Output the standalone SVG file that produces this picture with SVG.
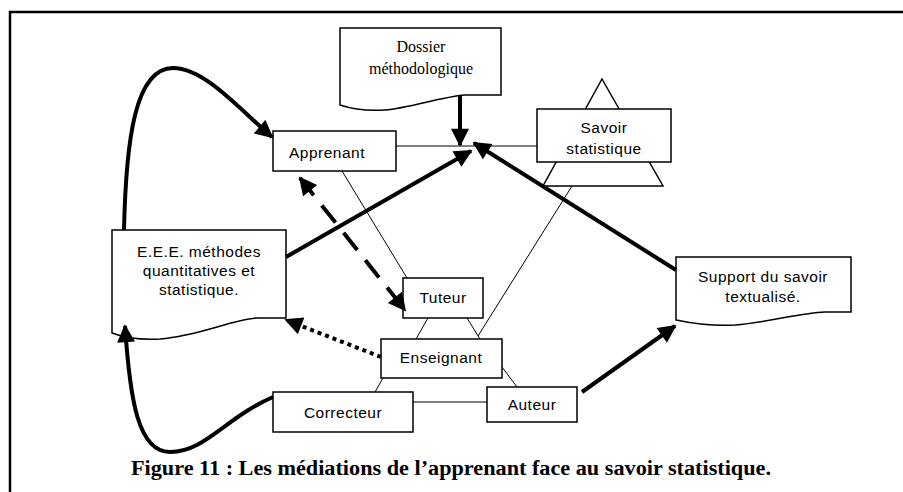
<svg xmlns="http://www.w3.org/2000/svg" width="903" height="492" viewBox="0 0 903 492">
<style>
.box{fill:#fff;stroke:#000;stroke-width:1.5}
.thin{stroke:#000;stroke-width:1;fill:none}
.thick{stroke:#000;stroke-width:4;fill:none}
.lbl{font-family:"Liberation Sans",Arial,sans-serif;font-size:15.5px;letter-spacing:0.5px;fill:#000;text-anchor:middle}
.ser{font-family:"Liberation Serif","Times New Roman",serif;font-size:16px;fill:#000;text-anchor:middle}
.cap{font-family:"Liberation Serif","Times New Roman",serif;font-size:20px;font-weight:bold;fill:#000;text-anchor:middle}
</style>
<defs>
<marker id="ah" viewBox="0 0 10 10" refX="9" refY="5" markerWidth="22" markerHeight="18" markerUnits="userSpaceOnUse" orient="auto-start-reverse">
<path d="M0,0 L10,5 L0,10 z" fill="#000"/>
</marker>
</defs>
<rect x="10" y="12" width="905" height="500" fill="#fff" stroke="#000" stroke-width="2.5"/>

<g id="thin-links">
<line class="thin" x1="396" y1="146" x2="537" y2="146"/>
<line class="thin" x1="342" y1="171" x2="407" y2="278"/>
<line class="thin" x1="572" y1="186" x2="478" y2="336"/>
<line class="thin" x1="428" y1="318" x2="416" y2="339"/>
<line class="thin" x1="467" y1="318" x2="480" y2="339"/>
<line class="thin" x1="383" y1="378" x2="375" y2="392"/>
<line class="thin" x1="502" y1="367" x2="517" y2="387"/>
<line class="thin" x1="413" y1="402" x2="487" y2="402"/>
</g>

<g id="savoir">
<path class="box" d="M602,79 L663,186 L543,186 Z"/>
<rect class="box" x="537" y="109" width="134" height="53"/>
<text class="lbl" x="604" y="133">Savoir</text>
<text class="lbl" x="604" y="154">statistique</text>
</g>

<g id="dossier">
<path class="box" d="M340,28 L501,28 L501,95 L465,95 C440,97 410,108 385,110 C370,111 355,110 340,105 Z"/>
<text class="ser" x="421" y="52">Dossier</text>
<text class="ser" x="421" y="74">méthodologique</text>
</g>

<g id="apprenant">
<rect class="box" x="273" y="131" width="123" height="40"/>
<text class="lbl" x="327" y="158">Apprenant</text>
</g>

<g id="eee">
<path class="box" d="M112,230 L286,230 L286,318 L257,318 C230,320 200,336 160,339 C140,340 125,338 112,333 Z"/>
<text class="lbl" x="199" y="257">E.E.E. méthodes</text>
<text class="lbl" x="199" y="276">quantitatives et</text>
<text class="lbl" x="199" y="295">statistique.</text>
</g>

<g id="tuteur">
<rect class="box" x="403" y="278" width="80" height="40"/>
<text class="lbl" x="443" y="303">Tuteur</text>
</g>

<g id="enseignant">
<rect class="box" x="381" y="339" width="121" height="39"/>
<text class="lbl" x="441" y="363">Enseignant</text>
</g>

<g id="correcteur">
<rect class="box" x="273" y="392" width="140" height="40"/>
<text class="lbl" x="343" y="418">Correcteur</text>
</g>

<g id="auteur">
<rect class="box" x="487" y="387" width="90" height="35"/>
<text class="lbl" x="532" y="410">Auteur</text>
</g>

<g id="support">
<path class="box" d="M676,257 L851,257 L851,312 L825,312 C800,313 770,322 735,325 C715,326 695,324 676,320 Z"/>
<text class="lbl" x="763" y="282">Support du savoir</text>
<text class="lbl" x="763" y="302">textualisé.</text>
</g>

<g id="connectors">
<path class="thick" d="M124,230 C126,140 135,68 173,68 C205,68 240,110 272,137" marker-end="url(#ah)"/>
<path class="thick" d="M273,397 C225,418 205,452 170,452 C138,452 130,400 125,326" marker-end="url(#ah)"/>
<line class="thick" x1="286" y1="257" x2="471" y2="151" marker-end="url(#ah)"/>
<line class="thick" x1="460" y1="95" x2="460" y2="145" marker-end="url(#ah)"/>
<line class="thick" stroke-width="3" x1="676" y1="270" x2="474" y2="143" marker-end="url(#ah)"/>
<line class="thick" stroke-width="5" stroke-dasharray="22 13" x1="300" y1="178" x2="405" y2="310" marker-start="url(#ah)" marker-end="url(#ah)"/>
<line class="thick" stroke-dasharray="4 4" x1="381" y1="357" x2="286" y2="320" marker-end="url(#ah)"/>
<line class="thick" x1="582" y1="392" x2="675" y2="326" marker-end="url(#ah)"/>
</g>

<text class="cap" x="451" y="475" textLength="640" lengthAdjust="spacingAndGlyphs">Figure 11 : Les médiations de l’apprenant face au savoir statistique.</text>
</svg>
